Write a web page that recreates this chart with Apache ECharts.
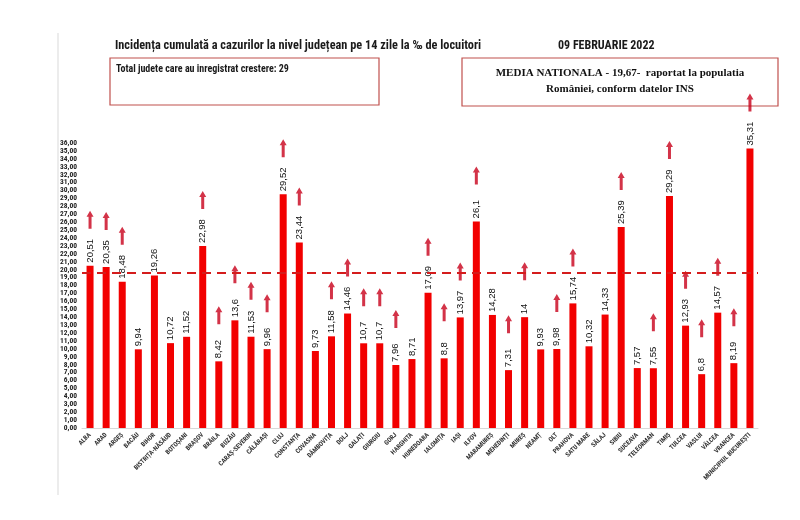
<!DOCTYPE html>
<html>
<head>
<meta charset="utf-8">
<script src="https://cdn.jsdelivr.net/npm/echarts@6/dist/echarts.min.js"></script>
<style>
html,body{margin:0;padding:0;background:#fff;}
#chart{width:800px;height:520px;}
</style>
</head>
<body>
<div id="chart"></div>
<script>
const counties = ["ALBA","ARAD","ARGEȘ","BACĂU","BIHOR","BISTRIȚA-NĂSĂUD","BOTOȘANI","BRAȘOV","BRĂILA","BUZĂU","CARAȘ-SEVERIN","CĂLĂRAȘI","CLUJ","CONSTANȚA","COVASNA","DÂMBOVIȚA","DOLJ","GALAȚI","GIURGIU","GORJ","HARGHITA","HUNEDOARA","IALOMIȚA","IAȘI","ILFOV","MARAMUREȘ","MEHEDINȚI","MUREȘ","NEAMȚ","OLT","PRAHOVA","SATU MARE","SĂLAJ","SIBIU","SUCEAVA","TELEORMAN","TIMIȘ","TULCEA","VASLUI","VÂLCEA","VRANCEA","MUNICIPIUL BUCUREȘTI"];
const incidence = [20.51,20.35,18.48,9.94,19.26,10.72,11.52,22.98,8.42,13.6,11.53,9.96,29.52,23.44,9.73,11.58,14.46,10.7,10.7,7.96,8.71,17.09,8.8,13.97,26.1,14.28,7.31,14,9.93,9.98,15.74,10.32,14.33,25.39,7.57,7.55,29.29,12.93,6.8,14.57,8.19,35.31];
const increased = [1,1,1,0,0,0,0,1,1,1,1,1,1,1,0,1,1,1,1,1,0,1,1,1,1,0,1,1,0,1,1,0,0,1,0,1,1,1,1,1,1,1];
const nationalAverage = 19.67;
const yTickMax = 36;

const fmt = v => String(v).replace('.', ',');
const arrowData = incidence.map((v, i) => increased[i] ? v : '-');

const chart = echarts.init(document.getElementById('chart'));
const narrow = "'Liberation Sans Narrow','Roboto Condensed','Liberation Sans',Arial,sans-serif";
chart.setOption({
  animation: false,
  backgroundColor: '#ffffff',
  grid: {left: 82, right: 42, top: 143, bottom: 92},
  title: [
    {text: 'Incidența cumulată a cazurilor la nivel județean pe 14 zile la ‰ de locuitori', left: 110, top: 35,
     textStyle: {fontFamily: narrow, fontSize: 12.3, fontWeight: 'bold', color: '#1a1a1a'}},
    {text: '09 FEBRUARIE 2022', left: 553, top: 35,
     textStyle: {fontFamily: narrow, fontSize: 12, fontWeight: 'bold', color: '#1a1a1a'}}
  ],
  xAxis: {
    type: 'category', data: counties,
    axisLine: {lineStyle: {color: '#d9d9d9'}},
    axisTick: {show: false},
    axisLabel: {interval: 0, rotate: 45, fontSize: 6.5, fontWeight: 'bold', color: '#333', margin: 6, fontFamily: narrow}
  },
  yAxis: {
    type: 'value', min: 0, max: yTickMax, interval: 1,
    splitLine: {show: false}, axisLine: {show: false}, axisTick: {show: false},
    axisLabel: {fontSize: 7.5, fontWeight: 'bold', color: '#222', margin: 5, fontFamily: narrow,
      formatter: v => v.toFixed(2).replace('.', ',')}
  },
  series: [
    {
      type: 'bar', data: incidence, barWidth: 7,
      itemStyle: {color: '#f20000'},
      label: {show: true, position: 'top', rotate: 90, align: 'left', verticalAlign: 'middle', distance: 3,
        fontSize: 9.5, color: '#111', fontFamily: "'Liberation Sans',Arial,sans-serif", formatter: p => fmt(p.value)},
      markLine: {
        silent: true, symbol: 'none', label: {show: false},
        lineStyle: {color: '#d41c1c', type: [9, 6], width: 2},
        data: [{yAxis: nationalAverage}]
      },
      z: 2
    },
    {
      type: 'scatter', data: arrowData, clip: false,
      symbol: 'path://M3.5,0 L7,6 L5,6 L5,18 L2,18 L2,6 L0,6 Z',
      symbolSize: [7, 18], symbolOffset: [0, -46],
      itemStyle: {color: '#c8001a'}, z: 3
    }
  ],
  graphic: [
    {type: 'line', shape: {x1: 58, y1: 33, x2: 58, y2: 495}, style: {stroke: '#d9d9d9', lineWidth: 1}},
    {type: 'rect', shape: {x: 110, y: 58, width: 269, height: 47}, style: {fill: 'none', stroke: '#c0504d', lineWidth: 1.2}},
    {type: 'text', left: 116, top: 64, style: {text: 'Total judete care au inregistrat crestere: 29', font: "bold 10px " + narrow, fill: '#1a1a1a'}},
    {type: 'rect', shape: {x: 462, y: 58, width: 316, height: 48}, style: {fill: 'none', stroke: '#c0504d', lineWidth: 1.2}},
    {type: 'text', x: 620, y: 73, style: {text: 'MEDIA NATIONALA - 19,67-  raportat la populatia', align: 'center', verticalAlign: 'middle', font: "bold 11px 'Liberation Serif','Times New Roman',serif", fill: '#111'}},
    {type: 'text', x: 620, y: 89, style: {text: 'României, conform datelor INS', align: 'center', verticalAlign: 'middle', font: "bold 11px 'Liberation Serif','Times New Roman',serif", fill: '#111'}}
  ]
});
</script>
</body>
</html>
